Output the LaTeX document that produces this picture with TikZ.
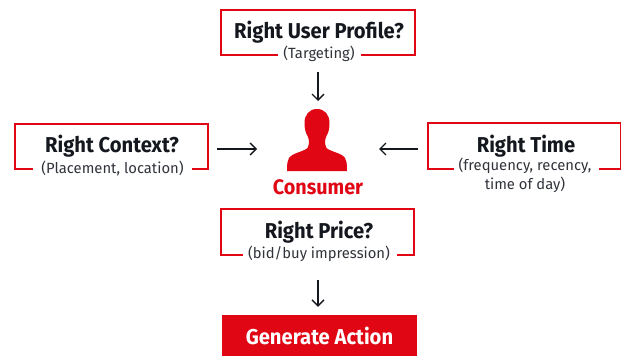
\documentclass[tikz,border=0pt]{standalone}
\usepackage{fontspec}
\setmainfont{Fira Sans}
\newfontfamily\narrowfont{Fira Sans}[FakeStretch=0.94]
\usetikzlibrary{arrows.meta}
\definecolor{brandred}{HTML}{E00614}
\definecolor{inkdark}{HTML}{14181E}
\definecolor{inksub}{HTML}{30343A}
\tikzset{
  framebox/.style={draw=none,inner sep=0pt,outer sep=0pt,minimum width=#1},
  frameline/.style={draw=brandred,line width=2pt,line cap=butt,line join=miter},
  titletext/.style={inner sep=0pt,text=inkdark,font=\narrowfont\fontsize{21.5}{21.5}\selectfont\bfseries},
  subtext/.style={inner sep=0pt,text=inksub,align=center,font=\fontsize{14.8}{19}\selectfont},
  flow/.style={draw=inkdark,line width=1.4pt,-{Straight Barb[length=6pt,width=12pt,line width=1.3pt]}}
}
\begin{document}
\begin{tikzpicture}[x=1pt,y=-1pt]
\useasboundingbox (0,0) rectangle (621,356);
% frames (invisible anchors)
\node[framebox=193.5pt,minimum height=45.5pt] (user) at (317.75,32.25) {};
\node[framebox=193pt,minimum height=45pt] (ctx) at (111.5,146.5) {};
\node[framebox=193pt,minimum height=46pt] (time) at (524.5,146) {};
\node[framebox=193pt,minimum height=46pt] (price) at (317.5,232) {};
\node[framebox=60pt,minimum height=80pt] (person) at (318,149) {};
\node[fill=brandred,inner sep=0pt,minimum width=195pt,minimum height=41pt,text=white,font=\narrowfont\fontsize{21.5}{21.5}\selectfont\bfseries] (action) at (319.5,335.5) {\raisebox{-1pt}{Generate Action}};
% frame lines with gaps
\draw[frameline] (278,0 |- user.south) -| (user.north west) -| (user.south east) -- (361,0 |- user.south);
\draw[frameline] (33,0 |- ctx.south) -| (ctx.north west) -| (ctx.south east) -- (192,0 |- ctx.south);
\draw[frameline] (454,0 |- time.south) -| (time.north west) -| (time.south east) -- (599,0 |- time.south);
\draw[frameline] (243,0 |- price.south) -| (price.north west) -| (price.south east) -- (397,0 |- price.south);
% texts
\node[titletext] (usert) at (319,32) {Right User Profile?};
\node[subtext] (users) at (319,54) {(Targeting)};
\node[titletext] (ctxt) at (112,146) {Right Context?};
\node[subtext] (ctxs) at (112.5,168) {(Placement, location)};
\node[titletext] (timet) at (526,146) {Right Time};
\node[subtext] (times) at (525,175) {(frequency, recency,\\time of day)};
\node[titletext] (pricet) at (319,232) {Right Price?};
\node[subtext] (prices) at (319,254) {(bid/buy impression)};
\node[inner sep=0pt,text=brandred,font=\narrowfont\fontsize{21}{21}\selectfont\bfseries] (consumer) at (318,187.5) {Consumer};
% person icon
\fill[brandred] (317,109)
  .. controls (325,109) and (329.5,115) .. (329.5,123)
  .. controls (329.5,129) and (328.5,132) .. (326.5,136)
  .. controls (324.5,140) and (324.5,144) .. (326.5,148)
  .. controls (331,152) and (342,153) .. (345,158)
  .. controls (346.5,160.5) and (347,163) .. (347,171)
  -- (287,171)
  .. controls (287,163) and (287.5,160.5) .. (289,158)
  .. controls (292,153) and (303,152) .. (307.5,148)
  .. controls (309.5,144) and (309.5,140) .. (307.5,136)
  .. controls (305.5,132) and (304.5,129) .. (304.5,123)
  .. controls (304.5,115) and (309,109) .. cycle;
% connectors
\draw[flow,shorten <=17pt,shorten >=8pt] (user.south -| person.north) -- (person.north);
\draw[flow,shorten <=9pt,shorten >=31pt] (ctx.east |- person.west) -- (person.west);
\draw[flow,shorten <=10pt,shorten >=31pt] (time.west |- person.east) -- (person.east);
\draw[flow,shorten <=25pt,shorten >=8pt] (price.south -| person.south) -- (action.north -| person.south);
\end{tikzpicture}
\end{document}
